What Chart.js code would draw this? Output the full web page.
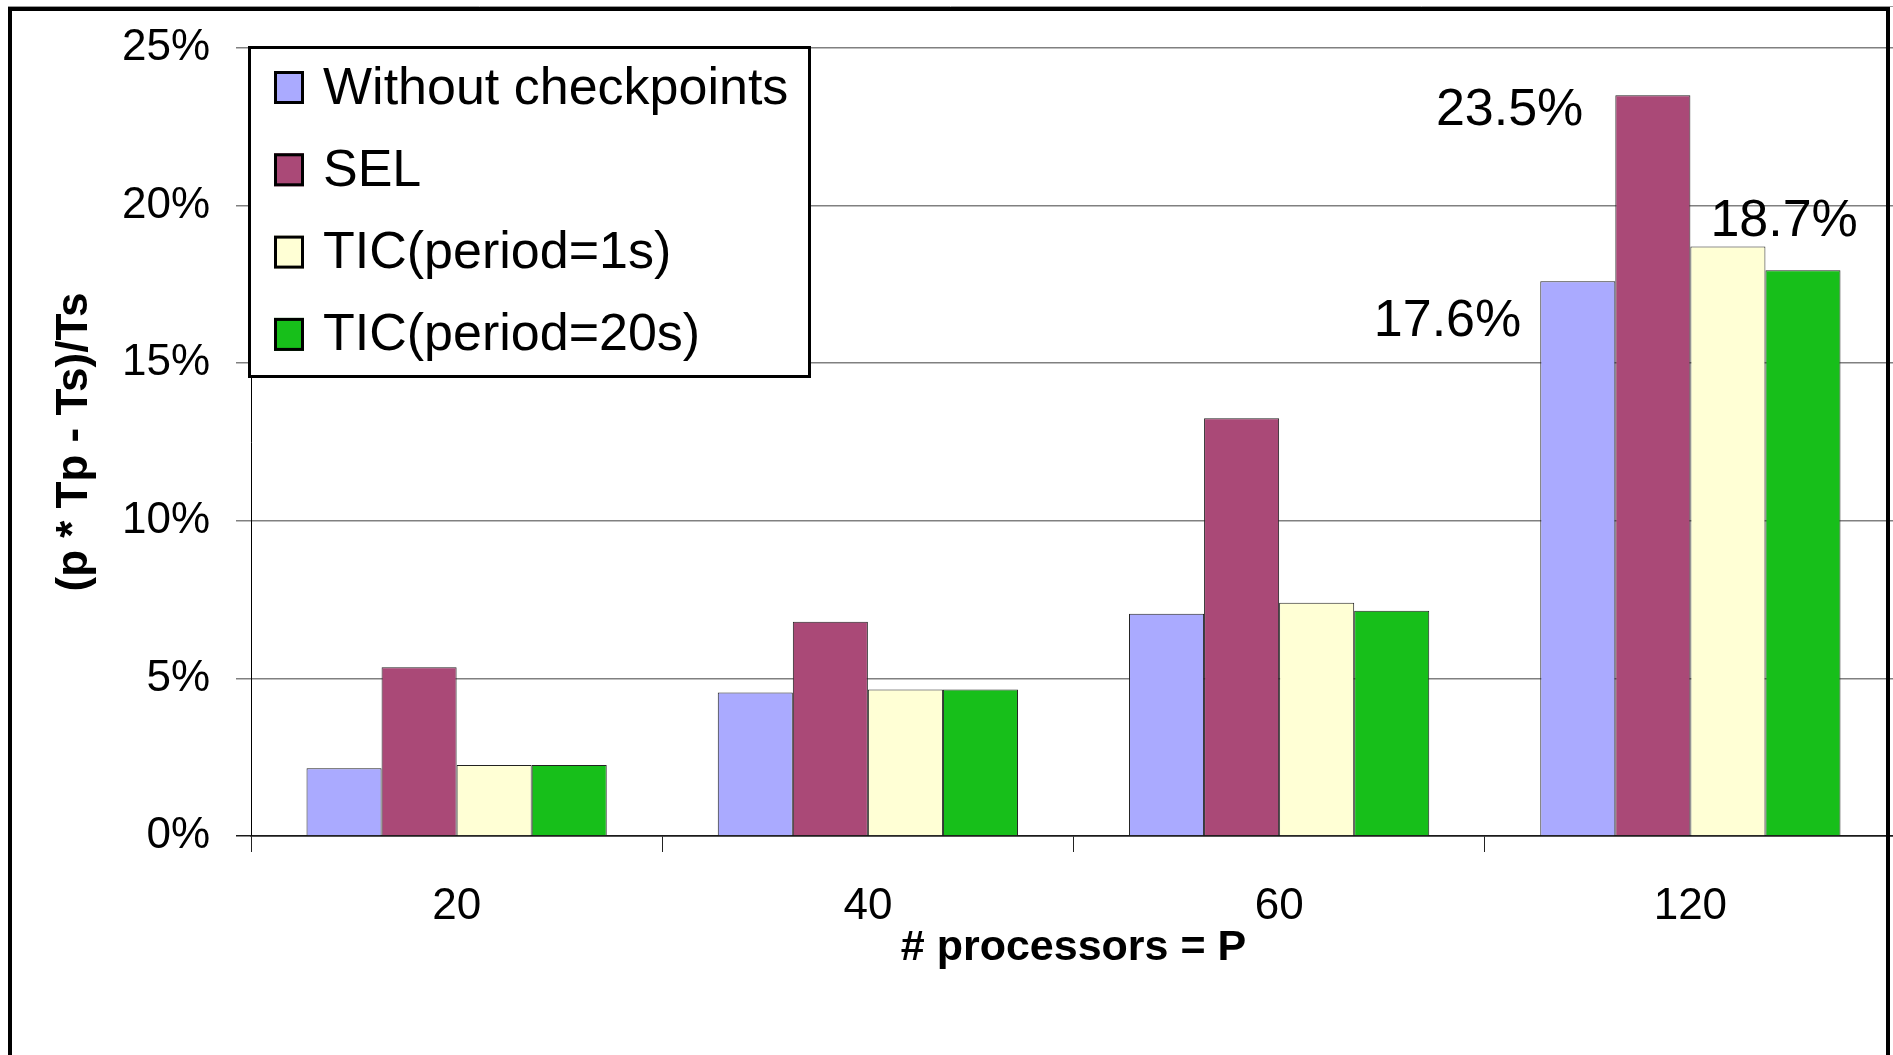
<!DOCTYPE html>
<html>
<head>
<meta charset="utf-8">
<title>Checkpoint overhead vs. processors</title>
<script src="https://cdn.jsdelivr.net/npm/chart.js@4/dist/chart.umd.min.js"></script>
<style>
  html, body { margin: 0; padding: 0; background: #fff; overflow: hidden; }
  #wrap { position: relative; width: 1893px; height: 1055px; overflow: hidden; background: #fff; }
  canvas { display: block; }
</style>
</head>
<body>
<div id="wrap"><canvas id="chart" width="1900" height="1055"></canvas></div>
<script>
// ---- data ----
const categories = ['20', '40', '60', '120'];
const seriesNames = ['Without checkpoints', 'SEL', 'TIC(period=1s)', 'TIC(period=20s)'];
const withoutCheckpoints = [2.15, 4.55, 7.05, 17.6];
const sel = [5.35, 6.8, 13.25, 23.5];
const ticPeriod1s = [2.25, 4.65, 7.4, 18.7];
const ticPeriod20s = [2.25, 4.65, 7.15, 17.95];
const yMin = 0, yMax = 25, yStep = 5;

// ---- styling ----
const seriesColors = ['#AAAAFF', '#AA4977', '#FFFFD5', '#17BF1A'];
const SANS = "'Liberation Sans', Arial, sans-serif";

// value call-outs on the 120-processor group: which bar, and where the text sits
const valueLabels = [
  { series: 0, cat: 3, align: 'right', dx: -19, dy: 55 },
  { series: 1, cat: 3, align: 'right', dx: -32, dy: 30 },
  { series: 2, cat: 3, align: 'left',  dx: 20,  dy: -11 }
];

const seriesData = [withoutCheckpoints, sel, ticPeriod1s, ticPeriod20s];

const valueLabelPlugin = {
  id: 'valueLabels',
  afterDatasetsDraw(chart) {
    const ctx = chart.ctx;
    ctx.save();
    ctx.font = '52px ' + SANS;
    ctx.fillStyle = '#000';
    ctx.textBaseline = 'alphabetic';
    valueLabels.forEach(l => {
      const bar = chart.getDatasetMeta(l.series).data[l.cat];
      const v = chart.data.datasets[l.series].data[l.cat];
      const left = bar.x - bar.width / 2;
      ctx.textAlign = l.align;
      ctx.fillText(v.toFixed(1) + '%', left + l.dx, bar.y + l.dy);
    });
    ctx.restore();
  }
};

const boxedLegendPlugin = {
  id: 'boxedLegend',
  afterDraw(chart) {
    const ctx = chart.ctx;
    const ca = chart.chartArea;
    const bx = ca.left - 3, by = ca.top - 2, bw = 563, bh = 332;
    ctx.save();
    ctx.fillStyle = '#fff';
    ctx.fillRect(bx, by, bw, bh);
    ctx.lineWidth = 3;
    ctx.strokeStyle = '#000';
    ctx.strokeRect(bx + 1.5, by + 1.5, bw - 3, bh - 3);
    ctx.font = '52px ' + SANS;
    ctx.textAlign = 'left';
    ctx.textBaseline = 'alphabetic';
    chart.data.datasets.forEach((ds, i) => {
      const cy = by + 41.5 + i * 82.3;
      const sx = bx + 26;
      ctx.fillStyle = ds.backgroundColor;
      ctx.fillRect(sx, cy - 16.5, 30, 33);
      ctx.lineWidth = 3;
      ctx.strokeStyle = '#000';
      ctx.strokeRect(sx + 1.5, cy - 15, 27, 30);
      ctx.fillStyle = '#000';
      ctx.fillText(ds.label, bx + 75, cy + 16);
    });
    ctx.restore();
  }
};

const framePlugin = {
  id: 'frame',
  beforeDraw(chart) {
    const ctx = chart.ctx;
    ctx.save();
    ctx.fillStyle = '#fff';
    ctx.fillRect(0, 0, chart.width, chart.height);
    ctx.restore();
  },
  afterDraw(chart) {
    const ctx = chart.ctx;
    ctx.save();
    ctx.strokeStyle = '#9a9a9a';
    ctx.lineWidth = 1;
    ctx.beginPath();
    ctx.moveTo(8, 6.5); ctx.lineTo(1893, 6.5);
    ctx.stroke();
    ctx.strokeStyle = '#000';
    ctx.lineWidth = 4;
    ctx.beginPath();
    ctx.moveTo(10, 1070);
    ctx.lineTo(10, 9);
    ctx.lineTo(1888, 9);
    ctx.lineTo(1888, 1070);
    ctx.stroke();
    ctx.restore();
  }
};

new Chart(document.getElementById('chart'), {
  type: 'bar',
  data: {
    labels: categories,
    datasets: seriesData.map((d, i) => ({
      label: seriesNames[i],
      data: d,
      backgroundColor: seriesColors[i],
      borderColor: '#222',
      borderWidth: 1,
      categoryPercentage: 0.73,
      barPercentage: 1.0
    }))
  },
  options: {
    responsive: false,
    animation: false,
    devicePixelRatio: 1,
    layout: { padding: { top: 48, right: 4, bottom: 0, left: 0 } },
    plugins: { legend: { display: false }, tooltip: { enabled: false } },
    scales: {
      x: {
        offset: true,
        grid: {
          display: true, offset: true, drawOnChartArea: false, drawTicks: true,
          tickLength: 16, color: '#222', lineWidth: 1
        },
        border: { display: true, color: '#1a1a1a', width: 1.5 },
        ticks: { font: { family: SANS, size: 44 }, color: '#000', padding: 28, maxRotation: 0 },
        title: {
          display: true, text: '# processors = P', color: '#000',
          font: { family: SANS, size: 43, weight: 'bold' },
          padding: { top: 0, bottom: 81 }
        },
        afterFit(scale) { scale.height = 219; scale.paddingLeft = 0; scale.paddingRight = 0; }
      },
      y: {
        min: yMin, max: yMax,
        ticks: {
          stepSize: yStep, color: '#000', padding: 26,
          font: { family: SANS, size: 44 },
          callback: v => v + '%'
        },
        grid: {
          color: c => (c.tick && c.tick.value === 0 ? '#1a1a1a' : '#808080'),
          lineWidth: 1.5, tickLength: 15
        },
        border: { display: true, color: '#000', width: 1 },
        title: {
          display: true, text: '(p * Tp - Ts)/Ts', color: '#000',
          font: { family: SANS, size: 44, weight: 'bold' },
          padding: { top: 48, bottom: 0 }
        },
        afterFit(scale) { scale.width = 251; scale.paddingTop = 0; scale.paddingBottom = 0; }
      }
    }
  },
  plugins: [framePlugin, valueLabelPlugin, boxedLegendPlugin]
});
</script>
</body>
</html>
